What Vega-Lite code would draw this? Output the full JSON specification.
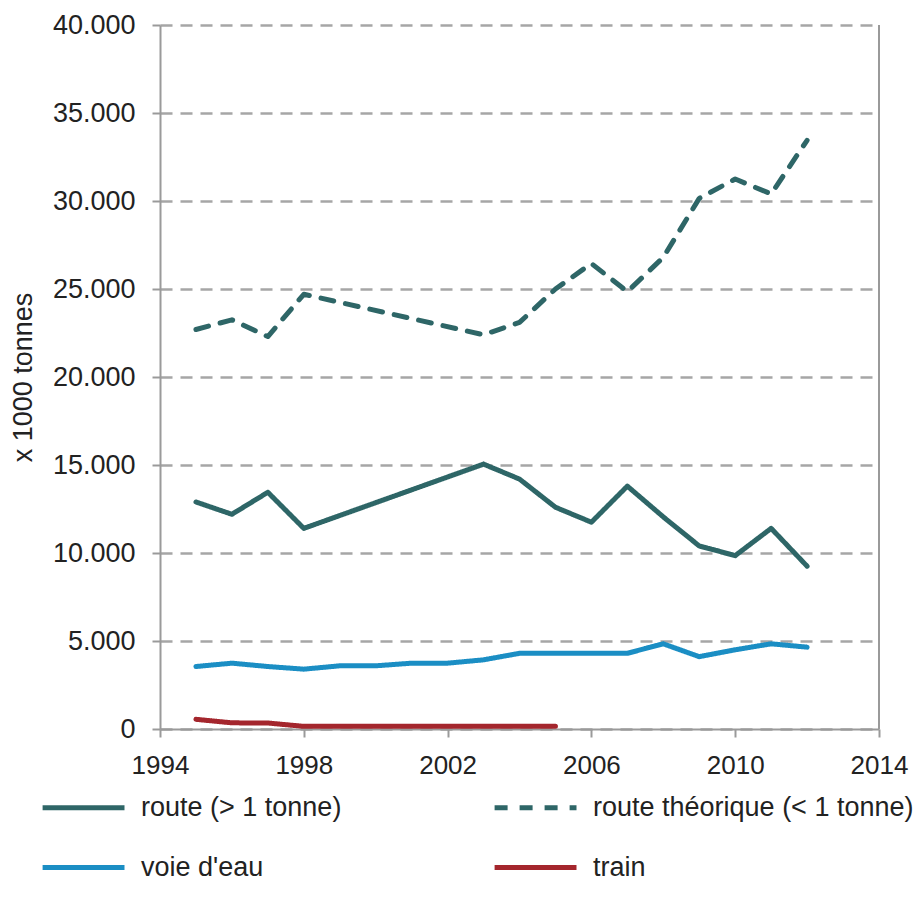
{
  "$schema": "https://vega.github.io/schema/vega-lite/v6.json",
  "width": 719,
  "height": 704,
  "autosize": {"type": "none"},
  "padding": {"left": 160, "top": 25, "right": 43, "bottom": 179},
  "background": "white",
  "config": {
    "font": "Liberation Sans",
    "view": {"stroke": null},
    "legend": {
      "orient": "none",
      "legendX": -98,
      "legendY": 750,
      "direction": "horizontal",
      "columns": 2,
      "symbolType": "M-1.73,0H1",
      "symbolSize": 3600,
      "symbolStrokeWidth": 5,
      "labelFontSize": 27,
      "labelColor": "#222222",
      "labelOffset": 14,
      "labelLimit": 600,
      "columnPadding": 142,
      "rowPadding": 14
    }
  },
  "layer": [
    {
      "data": {
        "values": [
          {"mode": "route (> 1 tonne)", "year": 1995, "value": 12900},
          {"mode": "route (> 1 tonne)", "year": 1996, "value": 12200},
          {"mode": "route (> 1 tonne)", "year": 1997, "value": 13450},
          {"mode": "route (> 1 tonne)", "year": 1998, "value": 11400},
          {"mode": "route (> 1 tonne)", "year": 2003, "value": 15050},
          {"mode": "route (> 1 tonne)", "year": 2004, "value": 14200},
          {"mode": "route (> 1 tonne)", "year": 2005, "value": 12600},
          {"mode": "route (> 1 tonne)", "year": 2006, "value": 11750},
          {"mode": "route (> 1 tonne)", "year": 2007, "value": 13800},
          {"mode": "route (> 1 tonne)", "year": 2008, "value": 12050},
          {"mode": "route (> 1 tonne)", "year": 2009, "value": 10400},
          {"mode": "route (> 1 tonne)", "year": 2010, "value": 9850},
          {"mode": "route (> 1 tonne)", "year": 2011, "value": 11400},
          {"mode": "route (> 1 tonne)", "year": 2012, "value": 9250},
          {"mode": "route théorique (< 1 tonne)", "year": 1995, "value": 22700},
          {"mode": "route théorique (< 1 tonne)", "year": 1996, "value": 23250},
          {"mode": "route théorique (< 1 tonne)", "year": 1997, "value": 22300},
          {"mode": "route théorique (< 1 tonne)", "year": 1998, "value": 24700},
          {"mode": "route théorique (< 1 tonne)", "year": 2003, "value": 22400},
          {"mode": "route théorique (< 1 tonne)", "year": 2004, "value": 23100},
          {"mode": "route théorique (< 1 tonne)", "year": 2005, "value": 25000},
          {"mode": "route théorique (< 1 tonne)", "year": 2006, "value": 26450},
          {"mode": "route théorique (< 1 tonne)", "year": 2007, "value": 24850},
          {"mode": "route théorique (< 1 tonne)", "year": 2008, "value": 26800},
          {"mode": "route théorique (< 1 tonne)", "year": 2009, "value": 30150},
          {"mode": "route théorique (< 1 tonne)", "year": 2010, "value": 31250},
          {"mode": "route théorique (< 1 tonne)", "year": 2011, "value": 30400},
          {"mode": "route théorique (< 1 tonne)", "year": 2012, "value": 33450},
          {"mode": "voie d'eau", "year": 1995, "value": 3550},
          {"mode": "voie d'eau", "year": 1996, "value": 3740},
          {"mode": "voie d'eau", "year": 1997, "value": 3550},
          {"mode": "voie d'eau", "year": 1998, "value": 3400},
          {"mode": "voie d'eau", "year": 1999, "value": 3590},
          {"mode": "voie d'eau", "year": 2000, "value": 3590},
          {"mode": "voie d'eau", "year": 2001, "value": 3740},
          {"mode": "voie d'eau", "year": 2002, "value": 3740},
          {"mode": "voie d'eau", "year": 2003, "value": 3930},
          {"mode": "voie d'eau", "year": 2004, "value": 4300},
          {"mode": "voie d'eau", "year": 2005, "value": 4300},
          {"mode": "voie d'eau", "year": 2006, "value": 4300},
          {"mode": "voie d'eau", "year": 2007, "value": 4300},
          {"mode": "voie d'eau", "year": 2008, "value": 4840},
          {"mode": "voie d'eau", "year": 2009, "value": 4110},
          {"mode": "voie d'eau", "year": 2010, "value": 4500},
          {"mode": "voie d'eau", "year": 2011, "value": 4840},
          {"mode": "voie d'eau", "year": 2012, "value": 4650},
          {"mode": "train", "year": 1995, "value": 550},
          {"mode": "train", "year": 1996, "value": 350},
          {"mode": "train", "year": 1997, "value": 340},
          {"mode": "train", "year": 1998, "value": 150},
          {"mode": "train", "year": 1999, "value": 150},
          {"mode": "train", "year": 2000, "value": 150},
          {"mode": "train", "year": 2001, "value": 150},
          {"mode": "train", "year": 2002, "value": 150},
          {"mode": "train", "year": 2003, "value": 150},
          {"mode": "train", "year": 2004, "value": 150},
          {"mode": "train", "year": 2005, "value": 150}
        ]
      },
      "mark": {"type": "line", "strokeWidth": 5, "strokeCap": "round", "strokeJoin": "round"},
      "encoding": {
        "x": {
          "field": "year",
          "type": "quantitative",
          "scale": {"domain": [1994, 2014], "nice": false, "zero": false},
          "axis": {
            "values": [1994, 1998, 2002, 2006, 2010, 2014],
            "format": "d",
            "title": null,
            "grid": false,
            "labelFontSize": 26,
            "labelColor": "#222222",
            "labelPadding": 15,
            "labelFlush": false,
            "domainColor": "#9a9a9a",
            "domainWidth": 2,
            "tickColor": "#9a9a9a",
            "tickWidth": 2,
            "tickSize": 8
          }
        },
        "y": {
          "field": "value",
          "type": "quantitative",
          "scale": {"domain": [0, 40000], "nice": false},
          "axis": {
            "values": [0, 5000, 10000, 15000, 20000, 25000, 30000, 35000, 40000],
            "labelExpr": "replace(format(datum.value, ','), ',', '.')",
            "title": "x 1000 tonnes",
            "titleFontSize": 27,
            "titleFontWeight": "normal",
            "titleColor": "#222222",
            "titleX": -137,
            "titleY": 352,
            "titleBaseline": "middle",
            "titleAngle": -90,
            "labelFontSize": 27,
            "labelColor": "#222222",
            "labelPadding": 17,
            "grid": true,
            "gridColor": "#a6a6a6",
            "gridWidth": 2.5,
            "gridDash": [12, 8],
            "domainColor": "#9a9a9a",
            "domainWidth": 2,
            "tickColor": "#9a9a9a",
            "tickWidth": 2,
            "tickSize": 8
          }
        },
        "color": {
          "field": "mode",
          "type": "nominal",
          "scale": {
            "domain": ["route (> 1 tonne)", "route théorique (< 1 tonne)", "voie d'eau", "train"],
            "range": ["#2e6667", "#2e6667", "#1b8ec4", "#a4262d"]
          },
          "legend": {"title": null}
        },
        "strokeDash": {
          "field": "mode",
          "type": "nominal",
          "scale": {
            "domain": ["route (> 1 tonne)", "route théorique (< 1 tonne)", "voie d'eau", "train"],
            "range": [[1, 0], [13, 12], [1, 0], [1, 0]]
          },
          "legend": {"title": null}
        }
      }
    },
    {
      "data": {"values": [{}]},
      "mark": {"type": "rule", "color": "#9a9a9a", "strokeWidth": 2},
      "encoding": {"x": {"datum": 2014, "type": "quantitative"}}
    }
  ]
}
